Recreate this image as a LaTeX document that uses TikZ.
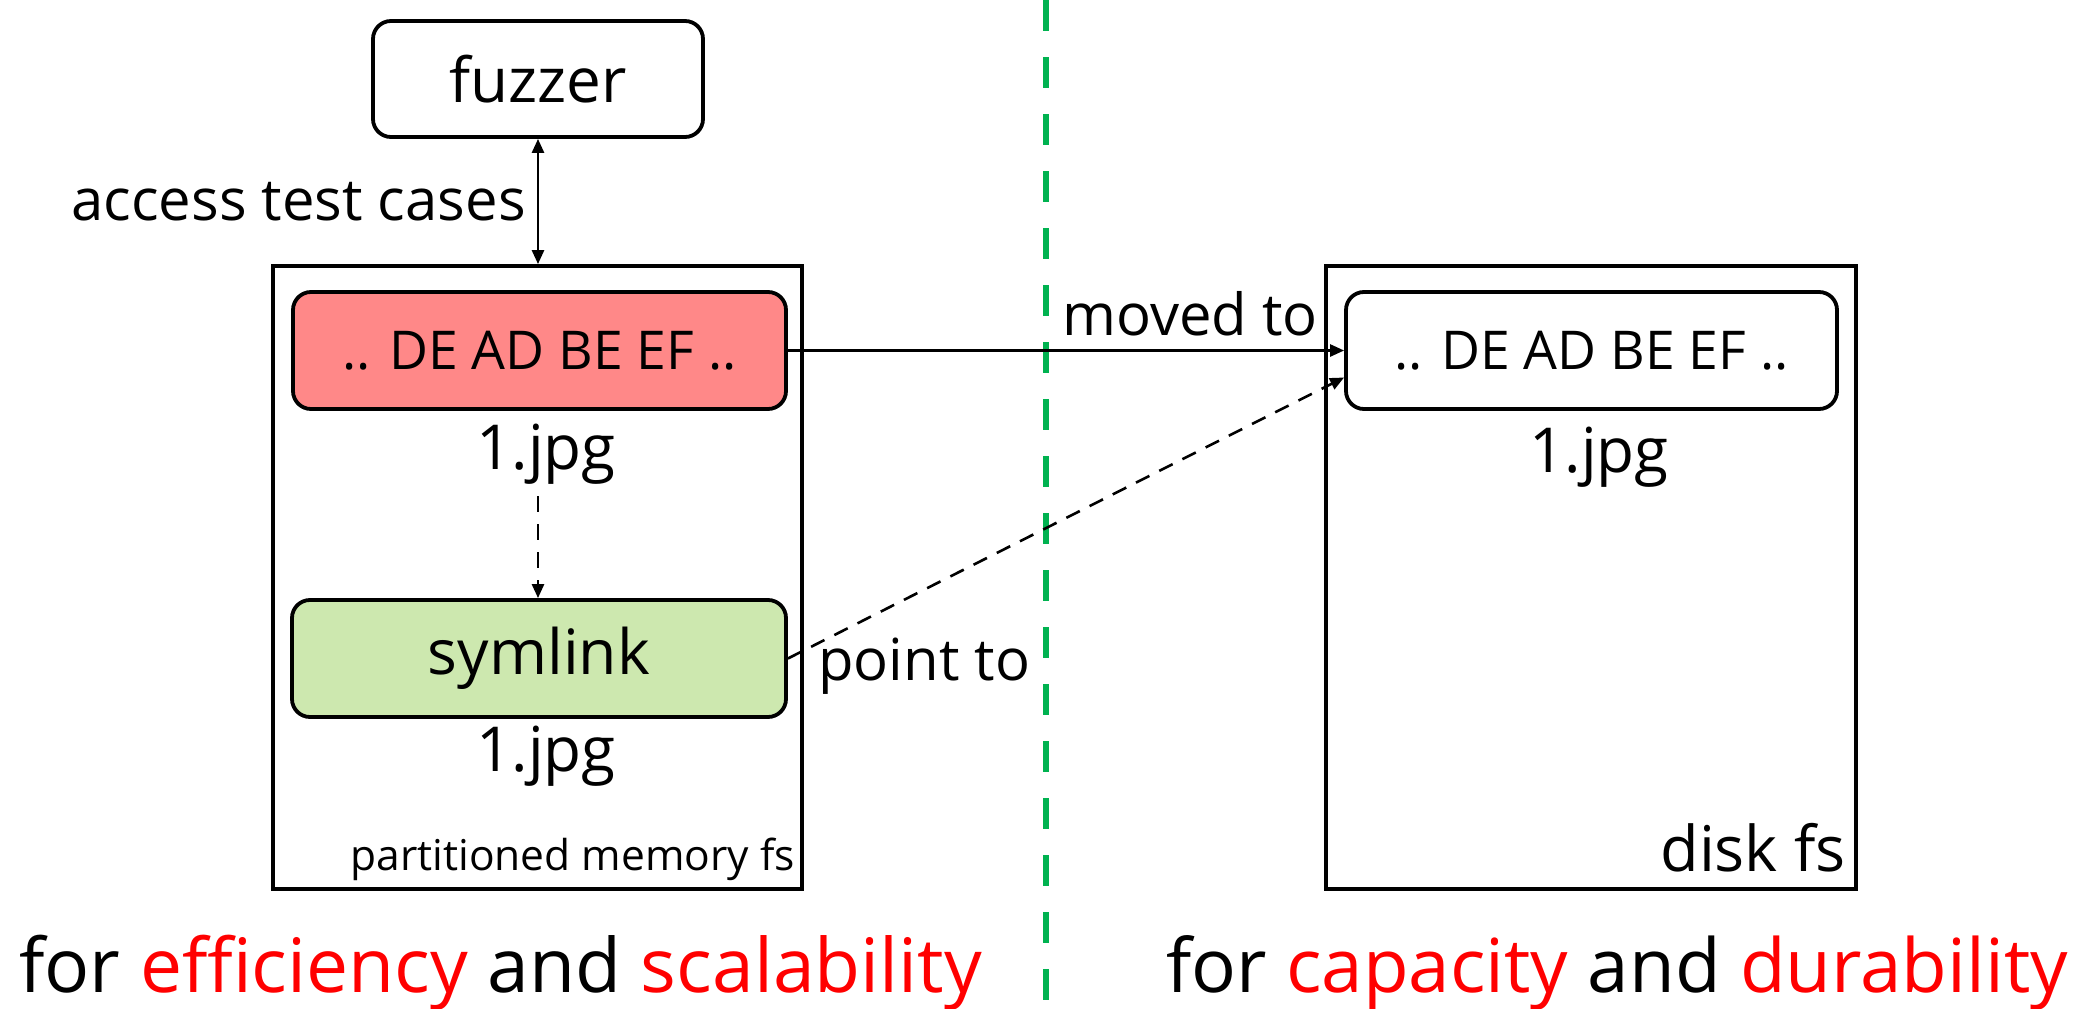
\documentclass[tikz,border=0pt]{standalone}
\usepackage{fontspec}
\setmainfont{Open Sans}
\usetikzlibrary{arrows.meta,calc}
\definecolor{redfill}{RGB}{255,136,136}
\definecolor{greenfill}{RGB}{205,232,175}
\definecolor{divider}{RGB}{0,178,80}
\newcommand{\fs}[1]{\fontsize{#1}{1.2\dimexpr #1pt\relax}\selectfont}
\begin{document}
\begin{tikzpicture}[x=1pt,y=-1pt,
  filebox/.style={draw, line width=3.8pt, rounded corners=18pt, inner sep=0pt},
  fsbox/.style={draw, line width=3.8pt, inner sep=0pt},
  tip/.style={Triangle[length=14pt,width=12pt]},
  conn/.style={line width=2.6pt, -{Triangle[length=14pt,width=12pt]}},
  lbl/.style={inner sep=0pt, font=\fs{58}},
]
\useasboundingbox (0,0) rectangle (2089,1009);

% storage areas
\node[fsbox, minimum width=529pt, minimum height=623pt] (memfs) at (537.5,577.5) {};
\node[fsbox, minimum width=530pt, minimum height=623pt] (diskfs) at (1591,577.5) {};

% files
\node[filebox, minimum width=330pt, minimum height=116pt, font=\fs{62}] (fuzzer) at (538,79) {fuzzer};
\node[filebox, fill=redfill, minimum width=493pt, minimum height=117pt, font=\fs{53.5}] (data) at (539.5,350.5) {.. DE AD BE EF ..};
\node[filebox, fill=greenfill, minimum width=494pt, minimum height=117pt, font=\fs{62.5}] (link) at (539,658.5) {symlink};
\node[filebox, minimum width=491pt, minimum height=117pt, font=\fs{53.5}] (moved) at (1591.5,350.5) {.. DE AD BE EF ..};

% file names
\node[inner sep=0pt, anchor=base, font=\fs{62}] (nameA) at (546,469) {1.jpg};
\node[inner sep=0pt, anchor=base, font=\fs{62}] (nameB) at (546,771) {1.jpg};
\node[inner sep=0pt, anchor=base, font=\fs{62}] (nameC) at (1599,472) {1.jpg};

% area captions
\node[inner sep=0pt, anchor=base east, font=\fs{42.5}] (memcap) at (795,870) {partitioned memory fs};
\node[inner sep=0pt, anchor=base east, font=\fs{63}] (diskcap) at (1846,871) {disk fs};

% divider between the two sides
\draw[divider, line width=5.5pt, dash pattern=on 31pt off 26pt] (1046,0) -- (1046,1009);

% connectors
\draw[line width=2.6pt, {Triangle[length=14pt,width=12pt]}-{Triangle[length=14pt,width=12pt]}]
  (fuzzer.south) -- (fuzzer.south |- memfs.north);
\node[lbl, anchor=base east] (access) at (526,220) {access test cases};

\draw[conn, dash pattern=on 16pt off 12pt] ($(nameA.south)+(-8,12)$) -- ($(link.north)+(-1,0)$);

\draw[conn] (data.east) -- (moved.west);
\node[lbl, anchor=base west] (movedlbl) at (1062,335) {moved to};

\coordinate (linkend) at ($(moved.west)+(0,27)$);
\draw[conn, dash pattern=on 15pt off 11pt] (link.east) -- (linkend);
\node[lbl, anchor=base west] (pointlbl) at (818,680) {point to};

% purpose of each side
\node[inner sep=0pt, anchor=base west, font=\fs{75}] (leftnote) at (19,992)
  {for \textcolor{red}{efficiency} and \textcolor{red}{scalability}};
\node[inner sep=0pt, anchor=base east, font=\fs{74.5}] (rightnote) at (2068,992)
  {for \textcolor{red}{capacity} and \textcolor{red}{durability}};
\end{tikzpicture}
\end{document}
